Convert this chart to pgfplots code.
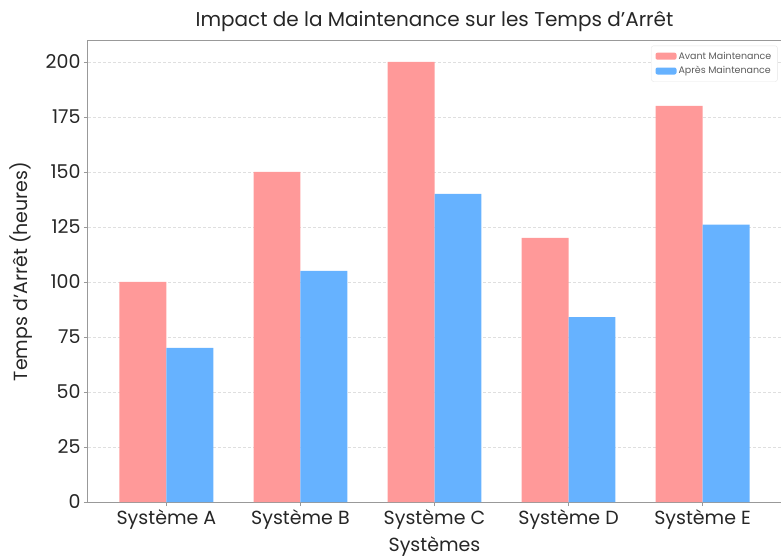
\documentclass[border=0pt]{standalone}
\usepackage{pgfplots}
\pgfplotsset{compat=1.18}
\usepackage{fontspec}
\setmainfont{Poppins}
\definecolor{avant}{HTML}{FF9999}
\definecolor{apres}{HTML}{66B2FF}
\definecolor{txt}{HTML}{262626}
\begin{document}
\begin{tikzpicture}
\begin{axis}[
  scale only axis,
  width=693pt, height=461pt,
  xmin=-0.585, xmax=4.585,
  ymin=0, ymax=209.5,
  xtick={0,1,2,3,4},
  xticklabels={Système A,Système B,Système C,Système D,Système E},
  ytick={0,25,50,75,100,125,150,175,200},
  /pgf/number format/assume math mode=true,
  tick label style={font=\fontsize{19}{21}\selectfont, text=txt},
  xlabel={Systèmes}, ylabel={Temps d'Arrêt (heures)},
  label style={font=\fontsize{19}{21}\selectfont, text=txt},
  title={Impact de la Maintenance sur les Temps d'Arrêt},
  title style={font=\fontsize{20}{22}\selectfont, text=txt, yshift=0pt},
  axis line style={gray!80, line width=1pt},
  tick style={gray!80, line width=0.8pt},
  tick align=outside, major tick length=4pt,
  xtick pos=bottom, ytick pos=left,
  ymajorgrids, grid style={densely dashed, gray!25, line width=0.6pt},
  legend style={at={(0.995,0.99)}, anchor=north east, font=\fontsize{9.5}{11}\selectfont, text=txt!75, draw=gray!20, rounded corners=2pt, inner sep=4pt, row sep=2pt},
  legend cell align=left,
  legend image code/.code={\fill[#1] (0pt,-3.5pt) rectangle (21pt,3.5pt);},
  xlabel style={yshift=0pt},
  ylabel style={yshift=6pt},
]
\addplot[ybar, bar width=0.35, bar shift=-0.175, fill=avant, draw=none] coordinates {(0,100) (1,150) (2,200) (3,120) (4,180)};
\addlegendentry{Avant Maintenance}
\addplot[ybar, bar width=0.35, bar shift=0.175, fill=apres, draw=none] coordinates {(0,70) (1,105) (2,140) (3,84) (4,126)};
\addlegendentry{Après Maintenance}
\end{axis}
\pgfresetboundingbox
\path[use as bounding box] (-88pt,-55pt) rectangle (693pt,502pt);
\end{tikzpicture}
\end{document}
